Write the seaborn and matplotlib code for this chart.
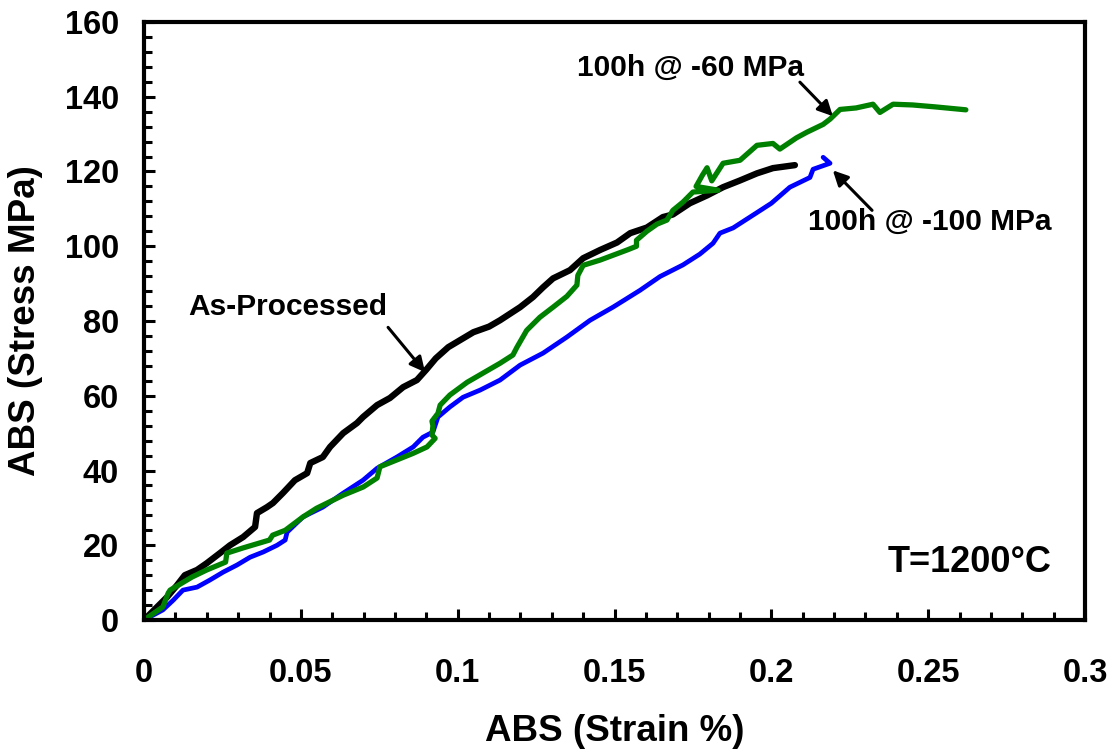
import matplotlib
matplotlib.use("Agg")
import matplotlib.pyplot as plt
import seaborn as sns
import pandas as pd
from matplotlib.ticker import MultipleLocator

# ---- data ----
as_x = [0, 0.0073, 0.0105, 0.013, 0.0169, 0.020, 0.0242, 0.0274, 0.0316, 0.0354, 0.036, 0.0392,
        0.0411, 0.0443, 0.0481, 0.052, 0.053, 0.057, 0.0593, 0.0635, 0.0679, 0.0698, 0.0743,
        0.0784, 0.0826, 0.087, 0.090, 0.093, 0.097, 0.100, 0.105, 0.110, 0.1135, 0.1199, 0.124,
        0.1272, 0.1304, 0.1358, 0.140, 0.1454, 0.1508, 0.155, 0.1603, 0.1654, 0.1686, 0.174,
        0.1795, 0.1846, 0.190, 0.1954, 0.2005, 0.2075]
as_y = [0, 6.1, 9.3, 12.0, 13.4, 15.2, 17.9, 20.0, 22.2, 24.9, 28.6, 30.2,
        31.3, 34.0, 37.4, 39.3, 42.0, 43.6, 46.3, 50.0, 52.7, 54.3, 57.5,
        59.4, 62.3, 64.2, 67.0, 70.0, 73.0, 74.5, 77.0, 78.5, 80.2, 83.7, 86.4,
        89.0, 91.4, 93.6, 96.8, 99.0, 101.0, 103.5, 105.0, 107.8, 108.5, 111.5,
        113.6, 115.8, 117.6, 119.5, 120.9, 121.7]

m100_x = [0, 0.006, 0.0093, 0.0124, 0.0169, 0.021, 0.0252, 0.0296, 0.0338, 0.038, 0.0424, 0.045,
          0.0456, 0.0507, 0.057, 0.0634, 0.0698, 0.0743, 0.0806, 0.0858, 0.0889, 0.0921, 0.0937,
          0.0975, 0.1017, 0.1071, 0.1135, 0.1199, 0.1272, 0.1348, 0.1422, 0.1495, 0.1581, 0.1645,
          0.1718, 0.1772, 0.1814, 0.1836, 0.1878, 0.1941, 0.2000, 0.2059, 0.2123, 0.2133, 0.2187,
          0.2165]
m100_y = [0, 2.7, 5.3, 8.0, 8.8, 10.7, 12.8, 14.7, 16.8, 18.2, 20.0, 21.4,
          23.5, 27.6, 30.2, 33.9, 37.4, 40.6, 43.6, 46.3, 48.9, 50.3, 54.3,
          57.0, 59.6, 61.5, 64.2, 68.2, 71.4, 75.7, 80.2, 83.7, 88.2, 91.9,
          95.0, 97.9, 100.8, 103.5, 104.9, 108.3, 111.5, 115.8, 118.4, 120.6, 122.2,
          123.8]

m60_x = [0, 0.006, 0.0077, 0.0083, 0.0137, 0.0153, 0.020, 0.026, 0.0264, 0.0316, 0.040, 0.041,
         0.045, 0.0507, 0.055, 0.0635, 0.0699, 0.0743, 0.0752, 0.0858, 0.0902, 0.0928, 0.0918,
         0.0921, 0.0918, 0.0937, 0.0944, 0.0975, 0.103, 0.1135, 0.1176, 0.1189, 0.122, 0.1262,
         0.1304, 0.1348, 0.138, 0.1383, 0.140, 0.1454, 0.154, 0.157, 0.157, 0.1603, 0.1635,
         0.1667, 0.1686, 0.1718, 0.175, 0.183, 0.176, 0.178, 0.1795, 0.181, 0.1846, 0.190,
         0.1954, 0.2005, 0.2027, 0.208, 0.2113, 0.2165, 0.2187, 0.2219, 0.227, 0.2324, 0.2346,
         0.2388, 0.245, 0.252, 0.262]
m60_y = [0, 3.5, 7.2, 8.0, 10.7, 11.5, 13.4, 15.5, 17.9, 19.3, 21.4, 22.7,
         24.0, 27.6, 29.9, 33.4, 35.6, 38.0, 41.0, 44.6, 46.3, 48.6, 49.5,
         52.0, 53.2, 55.3, 57.5, 60.2, 63.6, 68.7, 70.9, 73.0, 77.5, 81.0,
         83.7, 86.6, 89.6, 92.2, 94.9, 96.3, 99.0, 100.0, 101.6, 104.0, 105.9,
         107.0, 109.6, 111.8, 114.5, 115.0, 116.0, 119.0, 121.0, 117.5, 122.2, 123.0,
         127.0, 127.5, 126.0, 129.0, 130.5, 132.6, 134.0, 136.6, 137.0, 138.0, 135.8,
         138.0, 137.8, 137.3, 136.5]

x_ticks = [0, 0.05, 0.1, 0.15, 0.2, 0.25, 0.3]
x_tick_labels = ["0", "0.05", "0.1", "0.15", "0.2", "0.25", "0.3"]
y_ticks = [0, 20, 40, 60, 80, 100, 120, 140, 160]

sns.set_style("white")
plt.rcParams["font.family"] = ["Liberation Sans", "DejaVu Sans"]
plt.rcParams["font.weight"] = "bold"
plt.rcParams["text.color"] = "black"
plt.rcParams["axes.labelcolor"] = "black"
plt.rcParams["xtick.color"] = "black"
plt.rcParams["ytick.color"] = "black"

fig = plt.figure(figsize=(11.14, 7.5), dpi=100)
ax = fig.add_axes([0.1293, 0.1733, 0.9740 - 0.1293, 0.9707 - 0.1733])

series = [
    ("As-Processed", as_x, as_y, "black", 4.6),
    ("100h @ -100 MPa", m100_x, m100_y, "#0000FF", 3.4),
    ("100h @ -60 MPa", m60_x, m60_y, "#008000", 3.8),
]
for name, xs, ys, col, lw in series:
    df = pd.DataFrame({"x": xs, "y": ys})
    sns.lineplot(data=df, x="x", y="y", sort=False, estimator=None, color=col,
                 linewidth=lw, ax=ax, solid_capstyle="round", solid_joinstyle="round")

ax.set_xlim(0, 0.3)
ax.set_ylim(0, 160)
ax.set_xticks(x_ticks)
ax.set_xticklabels(x_tick_labels)
ax.set_yticks(y_ticks)
ax.xaxis.set_minor_locator(MultipleLocator(0.01))
ax.yaxis.set_minor_locator(MultipleLocator(4))

for s in ax.spines.values():
    s.set_linewidth(3.0)
    s.set_color("black")

ax.tick_params(axis="both", which="major", direction="in", length=8, width=2.2,
               color="black", labelcolor="black", labelsize=23.5,
               bottom=True, left=True, top=False, right=False)
ax.tick_params(axis="both", which="minor", direction="in", length=5.5, width=2.2,
               color="black", bottom=True, left=True, top=False, right=False)
ax.tick_params(axis="x", which="major", pad=27)
ax.tick_params(axis="y", which="major", pad=18)
for lab in ax.get_xticklabels() + ax.get_yticklabels():
    lab.set_fontweight("bold")
    lab.set_color("black")

ax.set_xlabel("ABS (Strain %)", fontsize=26.5, fontweight="bold", color="black", labelpad=18)
ax.set_ylabel("ABS (Stress MPa)", fontsize=26.5, fontweight="bold", color="black", labelpad=16)

ap = dict(arrowstyle="-|>,head_length=0.9,head_width=0.45", lw=2.2, color="black",
          shrinkA=0, shrinkB=0)
ax.text(0.138, 147.6, "100h @ -60 MPa", fontsize=21.5, fontweight="bold", color="black",
        ha="left", va="center")
ax.annotate("", xy=(0.2196, 134.8), xytext=(0.2091, 143.9), arrowprops=ap)
ax.text(0.2117, 106.4, "100h @ -100 MPa", fontsize=21.5, fontweight="bold", color="black",
        ha="left", va="center")
ax.annotate("", xy=(0.2196, 120.3), xytext=(0.2321, 109.6), arrowprops=ap)
ax.text(0.014, 83.7, "As-Processed", fontsize=21.5, fontweight="bold", color="black",
        ha="left", va="center")
ax.annotate("", xy=(0.0896, 66.3), xytext=(0.0778, 78.3), arrowprops=ap)
ax.text(0.2372, 15.5, "T=1200°C", fontsize=26, fontweight="bold", color="black",
        ha="left", va="center")

fig.savefig("out.png", dpi=100)
